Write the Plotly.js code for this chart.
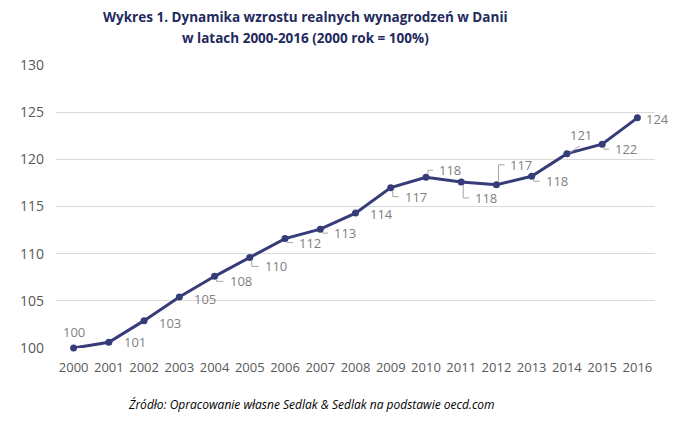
<!DOCTYPE html>
<html>
<head>
<meta charset="utf-8">
<script src="https://cdn.plot.ly/plotly-3.0.1.min.js"></script>
<style>html,body{margin:0;padding:0;background:#fff}#chart{width:685px;height:423px}</style>
</head>
<body>
<div id="chart"></div>
<script>
// ---- data ----
const years = ["2000","2001","2002","2003","2004","2005","2006","2007","2008","2009","2010","2011","2012","2013","2014","2015","2016"];
const wageIndex = [100.0,100.6,102.9,105.4,107.6,109.6,111.6,112.6,114.3,117.0,118.1,117.6,117.3,118.2,120.6,121.6,124.4];
const pointLabels = ["100","101","103","105","108","110","112","113","114","117","118","118","117","118","121","122","124"];
const yTicks = [100,105,110,115,120,125,130];
const titleLines = ["Wykres 1. Dynamika wzrostu realnych wynagrodzeń w Danii", "w latach 2000-2016 (2000 rok = 100%)"];
const sourceText = "Źródło: Opracowanie własne Sedlak &amp; Sedlak na podstawie oecd.com";

// ---- label placement (screen px offsets from the point; y down) ----
const labelDx = [0,13,13,13,13,13,12,12,12,12,11,12,12,12,1,11,7];
const labelDy = [-16,0,2,2,5,9,4,4,1,9,-7,16,-20,5,-19,5,1];
const leaderKind = ["","","","","L","L","L","L","","L","L","L","L","L","D","L",""];

const lineColor = "#363c78";
const idx = years.map((_, i) => i);

const annotations = [];
const shapes = [];
idx.forEach(i => {
  const dx = labelDx[i], dy = labelDy[i];
  annotations.push({
    x: i, y: wageIndex[i], xref: "x", yref: "y",
    text: pointLabels[i], showarrow: false,
    xanchor: i === 0 ? "center" : "left", yanchor: "middle",
    xshift: dx, yshift: -dy,
    font: {family: "Open Sans, sans-serif", size: 13, color: "#7f7f7f"}
  });
  let path = null;
  if (leaderKind[i] === "L") {
    const sx = 2, sy = dy > 0 ? 3 : -3, ex = dx - 4;
    path = `M ${sx},${-sy} L ${sx},${-dy} L ${ex},${-dy}`;
  } else if (leaderKind[i] === "D") {
    path = `M 3,1 L 13,8`;
  }
  if (path) {
    shapes.push({
      type: "path", xref: "x", yref: "y",
      xsizemode: "pixel", ysizemode: "pixel",
      xanchor: i, yanchor: wageIndex[i],
      path: path, line: {color: "#a6a6a6", width: 1}, layer: "above"
    });
  }
});

// title lines
[[titleLines[0], 1.1696], [titleLines[1], 1.0954]].forEach(([t, yy]) => {
  annotations.push({
    xref: "paper", yref: "paper", x: 0.416, y: yy,
    xanchor: "center", yanchor: "middle", showarrow: false,
    text: "<b>" + t + "</b>",
    font: {family: "Open Sans, sans-serif", size: 13.5, color: "#1f2a5e"}
  });
});

annotations.push({
  xref: "paper", yref: "paper", x: 0.426, y: -0.198,
  xanchor: "center", yanchor: "middle", showarrow: false,
  text: "<i>" + sourceText + "</i>",
  font: {family: "Open Sans, sans-serif", size: 12, color: "#000000"}
});

const trace = {
  x: idx, y: wageIndex, type: "scatter", mode: "lines+markers",
  line: {color: lineColor, width: 3},
  marker: {color: lineColor, size: 7},
  cliponaxis: false, hoverinfo: "skip"
};

const layout = {
  width: 685, height: 423,
  margin: {l: 56, r: 30, t: 65, b: 75},
  paper_bgcolor: "#ffffff", plot_bgcolor: "#ffffff",
  showlegend: false,
  xaxis: {
    range: [-0.5, 16.5], tickmode: "array", tickvals: idx, ticktext: years,
    showgrid: false, zeroline: false, showline: false, ticks: "",
    ticklabelstandoff: 10,
    tickfont: {family: "Open Sans, sans-serif", size: 13, color: "#595959"}
  },
  yaxis: {
    range: [100, 130], tickmode: "array", tickvals: yTicks,
    showgrid: true, gridcolor: "#d9d9d9", gridwidth: 1,
    zeroline: false, showline: false, ticks: "", ticklen: 0,
    ticklabelstandoff: 11,
    tickfont: {family: "Open Sans, sans-serif", size: 14, color: "#595959"}
  },
  annotations: annotations,
  shapes: shapes
};

Plotly.newPlot("chart", [trace], layout, {displayModeBar: false, staticPlot: true});
</script>
</body>
</html>
